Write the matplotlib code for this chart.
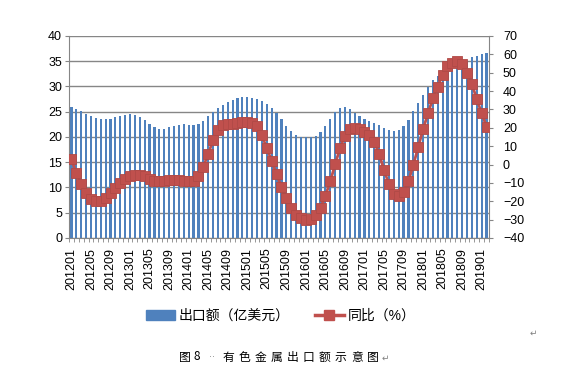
import numpy as np
import matplotlib.pyplot as plt
from matplotlib.patches import Patch
from matplotlib.lines import Line2D

# 月份 201201 - 201902
months = [f'{y}{m:02d}' for y in range(2012, 2020) for m in range(1, 13)][:86]

# 出口额（亿美元）
export_value = [25.9, 25.5, 25.1, 24.5, 24.1, 23.75, 23.55, 23.55, 23.55, 23.9, 24.1, 24.3,
                24.5, 24.3, 23.9, 23.4, 22.6, 22.0, 21.6, 21.6, 22.0, 22.2, 22.4, 22.6,
                22.4, 22.4, 22.6, 23.2, 24.1, 24.9, 25.7, 26.3, 26.9, 27.3, 27.7, 27.9,
                27.9, 27.7, 27.5, 27.1, 26.5, 25.7, 24.7, 23.55, 22.2, 21.2, 20.4, 20.0,
                20.0, 20.0, 20.2, 21.0, 22.2, 23.55, 24.9, 25.7, 25.9, 25.5, 24.7, 24.1,
                23.55, 23.2, 22.8, 22.4, 21.8, 21.4, 21.2, 21.4, 22.2, 23.4, 25.1, 26.7,
                28.3, 29.9, 31.25, 32.0, 32.9, 33.9, 34.5, 34.9, 34.9, 35.1, 35.9, 36.05,
                36.4, 36.6]

# 同比（%）
yoy = [2.9, -4.7, -10.7, -15.6, -18.8, -20.1, -20.1, -18.3, -15.6, -12.9, -10.1, -8.0,
       -6.5, -5.6, -5.6, -6.5, -7.8, -8.9, -9.2, -8.9, -8.3, -8.3, -8.3, -8.9,
       -8.9, -8.7, -6.5, -1.1, 5.6, 13.4, 19.0, 21.5, 21.9, 22.1, 22.4, 23.1,
       23.1, 22.8, 21.0, 15.9, 8.9, 2.0, -5.3, -12.3, -18.3, -23.7, -27.3, -29.1,
       -30.0, -29.7, -27.7, -23.7, -17.0, -9.2, 0.2, 8.9, 15.5, 19.2, 20.1, 19.3,
       17.9, 16.1, 12.1, 5.8, -2.9, -10.7, -15.9, -17.4, -15.0, -9.2, -0.2, 9.4,
       19.2, 27.8, 36.0, 42.3, 49.0, 53.5, 55.5, 56.3, 55.0, 50.1, 43.8, 35.6,
       27.8, 20.6]

bar_color = '#4F81BD'
line_color = '#C0504D'
grid_color = '#868686'

plt.rcParams['font.family'] = ['Liberation Sans', 'Noto Sans CJK SC', 'DejaVu Sans']

fig = plt.figure(figsize=(5.65, 3.8), dpi=100)
ax = fig.add_axes([0.1221, 0.3737, 0.7434, 0.5316])

x = np.arange(len(months))
ax.bar(x, export_value, width=0.45, color=bar_color, zorder=2)
ax.set_xlim(-0.5, len(months) - 0.5)
ax.set_ylim(0, 40)
ax.set_yticks(range(0, 41, 5))
ax.grid(axis='y', color=grid_color, linewidth=1)
ax.set_axisbelow(True)

ax.set_xticks(x[::4])
ax.set_xticklabels(months[::4], rotation=90)
ax.set_xticks(np.arange(-0.5, len(months), 1), minor=True)
ax.tick_params(axis='x', which='major', length=0, pad=7, labelsize=9)
ax.tick_params(axis='x', which='minor', length=3, color=grid_color)
ax.tick_params(axis='y', length=3, color=grid_color, pad=2, labelsize=9)

for s in ['top', 'right']:
    ax.spines[s].set_visible(False)
for s in ['left', 'bottom']:
    ax.spines[s].set_color(grid_color)

ax2 = ax.twinx()
ax2.plot(x, yoy, color=line_color, linewidth=2, marker='s', markersize=7.5,
         markerfacecolor=line_color, markeredgecolor='#B04A47', markeredgewidth=0.6, zorder=3)
ax2.set_ylim(-40, 70)
ax2.set_yticks(range(-40, 71, 10))
ax2.tick_params(axis='y', length=3, color=grid_color, pad=7, labelsize=9)
for s in ['top', 'left', 'bottom']:
    ax2.spines[s].set_visible(False)
ax2.spines['right'].set_color(grid_color)

handles = [Patch(facecolor=bar_color, edgecolor=bar_color),
           Line2D([0], [0], color=line_color, linewidth=2.5, marker='s', markersize=7.5)]
fig.legend(handles, ['出口额（亿美元）', '同比（%）'], loc='center',
           bbox_to_anchor=(0.497, 0.168), ncol=2, frameon=False, fontsize=10,
           handlelength=2.1, columnspacing=1.8, handletextpad=0.3)

# 图题，逐字排开
cap_y = 1 - 357 / 380
cjk = ['Noto Sans CJK SC', 'DejaVu Sans']
fig.text(185 / 565, cap_y, '图', ha='center', va='center', fontsize=8.5, family=cjk)
fig.text(197 / 565, cap_y, '8', ha='center', va='center', fontsize=8.5, family=cjk)
fig.text(212 / 565, cap_y, '··', ha='center', va='center', fontsize=7, color='#909090',
         family=['DejaVu Sans'])
cx = 228
for ch in '有色金属出口额示意图':
    fig.text(cx / 565, cap_y, ch, ha='center', va='center', fontsize=8.5, family=cjk)
    cx += 16.1
fig.text(385 / 565, 1 - 358 / 380, '↵', ha='center', va='center', fontsize=6.5,
         color='#808080', family=['DejaVu Sans'])
fig.text(533 / 565, 1 - 333 / 380, '↵', ha='center', va='center', fontsize=6.5,
         color='#808080', family=['DejaVu Sans'])

fig.savefig('out.png', dpi=100)
